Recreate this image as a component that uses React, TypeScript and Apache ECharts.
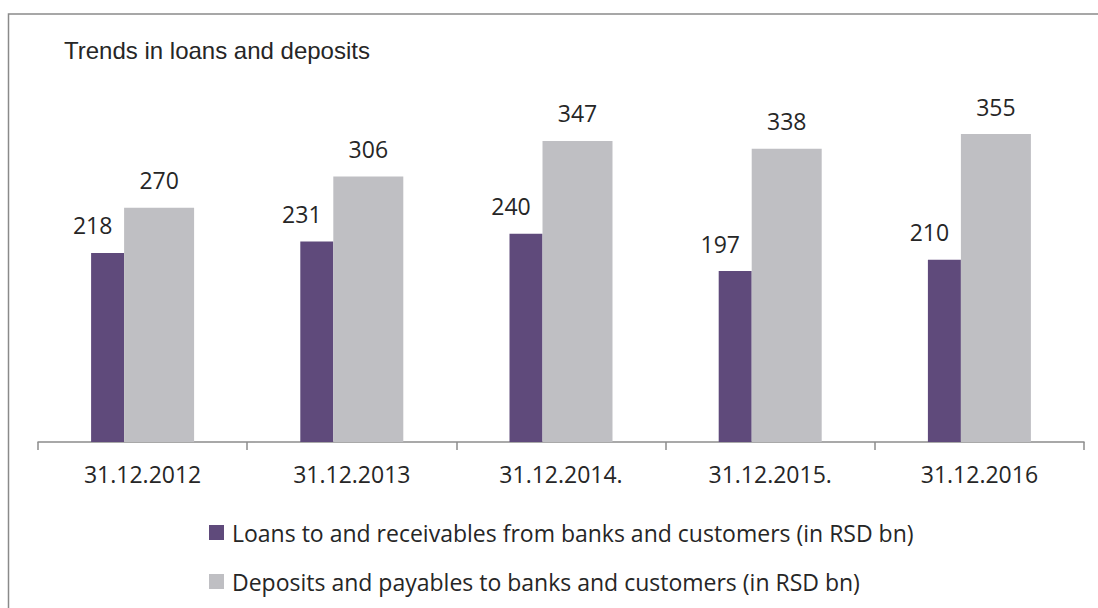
import React, { useEffect, useRef } from "react";
import * as echarts from "echarts";

const categories = ["31.12.2012", "31.12.2013", "31.12.2014.", "31.12.2015.", "31.12.2016"];
const loans = [218, 231, 240, 197, 210];
const deposits = [270, 306, 347, 338, 355];
const seriesNames = [
  "Loans to and receivables from banks and customers (in RSD bn)",
  "Deposits and payables to banks and customers (in RSD bn)",
];
const titleText = "Trends in loans and deposits";

export default function App() {
  const ref = useRef<HTMLDivElement>(null);
  useEffect(() => {
    if (!ref.current) return;
    const chart = echarts.init(ref.current, null, { renderer: "svg" });
    const labelStyle = {
      show: true,
      position: "top" as const,
      distance: 16,
      fontFamily: "Open Sans",
      fontSize: 23,
      color: "#262626",
    };
    chart.setOption({
      animation: false,
      backgroundColor: "#ffffff",
      title: {
        text: titleText,
        left: 59,
        top: 33,
        textStyle: {
          fontFamily: "Liberation Sans",
          fontSize: 24,
          fontWeight: "normal",
          color: "#262626",
        },
      },
      graphic: [
        {
          type: "rect",
          shape: { x: 8.5, y: 14, width: 1200, height: 800 },
          style: { fill: "none", stroke: "#8a8a8a", lineWidth: 1.5 },
          silent: true,
        },
      ],
      legend: {
        orient: "vertical",
        left: 204,
        top: 516,
        itemWidth: 15,
        itemHeight: 15,
        itemGap: 26,
        icon: "rect",
        textStyle: {
          fontFamily: "Open Sans",
          fontSize: 23,
          color: "#262626",
          padding: [0, 0, 0, 3],
        },
        data: seriesNames,
      },
      grid: { left: 38, right: 14, top: 95, bottom: 166, containLabel: false },
      xAxis: {
        type: "category",
        data: categories,
        axisLine: { lineStyle: { color: "#8c8c8c", width: 1.5 } },
        axisTick: { show: true, length: 8, lineStyle: { color: "#8c8c8c", width: 1.5 } },
        axisLabel: {
          fontFamily: "Open Sans",
          fontSize: 23,
          color: "#262626",
          margin: 20,
        },
      },
      yAxis: {
        type: "value",
        min: 0,
        max: 400,
        show: false,
        splitLine: { show: false },
      },
      series: [
        {
          name: seriesNames[0],
          type: "bar",
          data: loans,
          barWidth: 33,
          barGap: "0%",
          itemStyle: { color: "#5f4a7b" },
          label: { ...labelStyle, offset: [-15, 0] },
        },
        {
          name: seriesNames[1],
          type: "bar",
          data: deposits,
          barWidth: 70,
          barGap: "0%",
          itemStyle: { color: "#bfbfc3" },
          label: labelStyle,
        },
      ],
    });
    return () => chart.dispose();
  }, []);
  return (
    <div
      ref={ref}
      style={{ position: "absolute", left: 0, top: 0, width: 1098, height: 608 }}
    />
  );
}
